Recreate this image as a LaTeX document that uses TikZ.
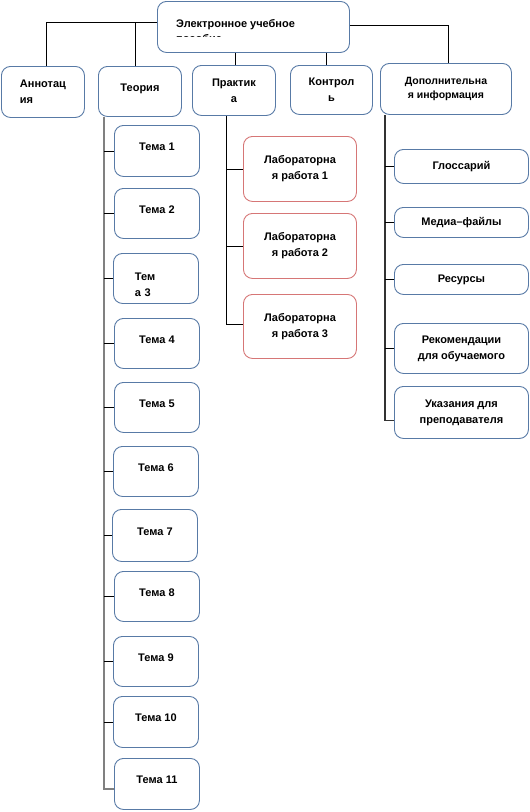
\documentclass[tikz,border=0pt]{standalone}
\usepackage{fontspec}
\setmainfont{Liberation Sans}
\definecolor{ramka}{RGB}{88,122,166}
\definecolor{ramkalab}{RGB}{214,118,118}
\begin{document}
\begin{tikzpicture}[x=1pt, y=-1pt,
  every node/.style={font=\bfseries\fontsize{11}{16}\selectfont},
  blok/.style={rectangle, rounded corners=9pt, draw=ramka, line width=0.9pt, fill=white, anchor=north west, align=center, inner sep=2pt},
  tema/.style={blok, minimum width=85pt, minimum height=50pt, text depth=8pt},
  lab/.style={blok, draw=ramkalab, minimum width=113pt, minimum height=65pt},
  razdel/.style={blok, minimum width=134pt},
  svyaz/.style={line width=0.8pt},
  stvol/.style={line width=1.8pt, draw=black!50}
]
\useasboundingbox (0,0) rectangle (530,812);
\node[blok, minimum width=192pt, minimum height=51pt] (titul) at (157,1) {};
\node[anchor=base west, inner sep=0pt] (titul1) at (176,27) {Электронное учебное};
\begin{scope}
\clip (157,30) rectangle (349,36.5);
\node[anchor=base west, inner sep=0pt] (titul2) at (176,42) {пособие};
\end{scope}
\node[blok, align=left, minimum width=83pt, minimum height=51pt] (annot) at (1,66) {Аннотац\\ия};
\node[blok, minimum width=83pt, minimum height=50pt, text depth=8pt] (teoria) at (98,66) {Теория};
\node[blok, minimum width=83pt, minimum height=50pt] (praktika) at (192,65) {Практик\\а};
\node[blok, minimum width=82pt, minimum height=49pt] (kontrol) at (290,65) {Контрол\\ь};
\node[blok, minimum width=131pt, minimum height=51pt, font=\bfseries\fontsize{10.5}{14}\selectfont] (dop) at (380,63) {Дополнительна\\я информация};
\draw[svyaz] ([yshift=4.5pt]titul.west) -| ([xshift=3.5pt]annot.north);
\draw[svyaz] ([xshift=-4.5pt]teoria.north) |- ([yshift=4.5pt]titul.west);
\draw[svyaz] ([xshift=1.5pt]praktika.north) -- ([xshift=1.5pt]praktika.north |- titul.south);
\draw[svyaz] ([xshift=-5pt]kontrol.north) -- ([xshift=-5pt]kontrol.north |- titul.south);
\draw[svyaz] ([yshift=1.5pt]titul.east) -| ([xshift=2.5pt]dop.north);
\node[tema, minimum height=51pt] (t1) at (114,125) {Тема 1};
\node[tema] (t2) at (114,188) {Тема 2};
\node[tema, align=left, text width=42pt, text depth=3pt] (t3) at (113,253) {Тем\\а 3};
\node[tema] (t4) at (114,318) {Тема 4};
\node[tema] (t5) at (114,382) {Тема 5};
\node[tema] (t6) at (113,446) {Тема 6};
\node[tema, minimum height=52pt] (t7) at (112,509) {Тема 7};
\node[tema] (t8) at (114,571) {Тема 8};
\node[tema] (t9) at (113,636) {Тема 9};
\node[tema, minimum height=51pt] (t10) at (113,696) {Тема 10};
\node[tema, minimum height=51pt] (t11) at (114,758) {Тема 11};
\coordinate (tverh) at ([xshift=6pt]teoria.south west);
\draw[stvol] (tverh) |- ([yshift=-5pt]t11.west);
\foreach \t in {t1,t2,t3,t4,t5,t6,t7,t8,t9,t10}
  \draw[svyaz] (tverh |- \t.west) -- (\t.west);
\node[lab] (lab1) at (243,136) {Лабораторна\\я работа 1};
\node[lab] (lab2) at (243,213) {Лабораторна\\я работа 2};
\node[lab, minimum height=64pt] (lab3) at (243,294) {Лабораторна\\я работа 3};
\coordinate (pverh) at ([xshift=34pt]praktika.south west);
\draw[svyaz] (pverh) |- ([yshift=2pt]lab3.west);
\draw[svyaz] (pverh |- lab1.west) -- (lab1.west);
\draw[svyaz] (pverh |- lab2.west) -- (lab2.west);
\node[razdel, minimum height=34pt] (gloss) at (394,149) {Глоссарий};
\node[razdel, minimum height=30pt] (media) at (394,207) {Медиа–файлы};
\node[razdel, minimum height=30pt] (resursy) at (394,264) {Ресурсы};
\node[razdel, minimum height=50pt] (rekom) at (394,323) {Рекомендации\\для обучаемого};
\node[razdel, minimum height=52pt] (ukaz) at (394,386) {Указания для\\преподавателя};
\coordinate (dverh) at ([xshift=5pt]dop.south west);
\draw[svyaz, line width=1.2pt, black!80] (dverh) |- ([yshift=-8pt]ukaz.west);
\foreach \r in {gloss,media,resursy,rekom}
  \draw[svyaz] (dverh |- \r.west) -- (\r.west);
\end{tikzpicture}
\end{document}
